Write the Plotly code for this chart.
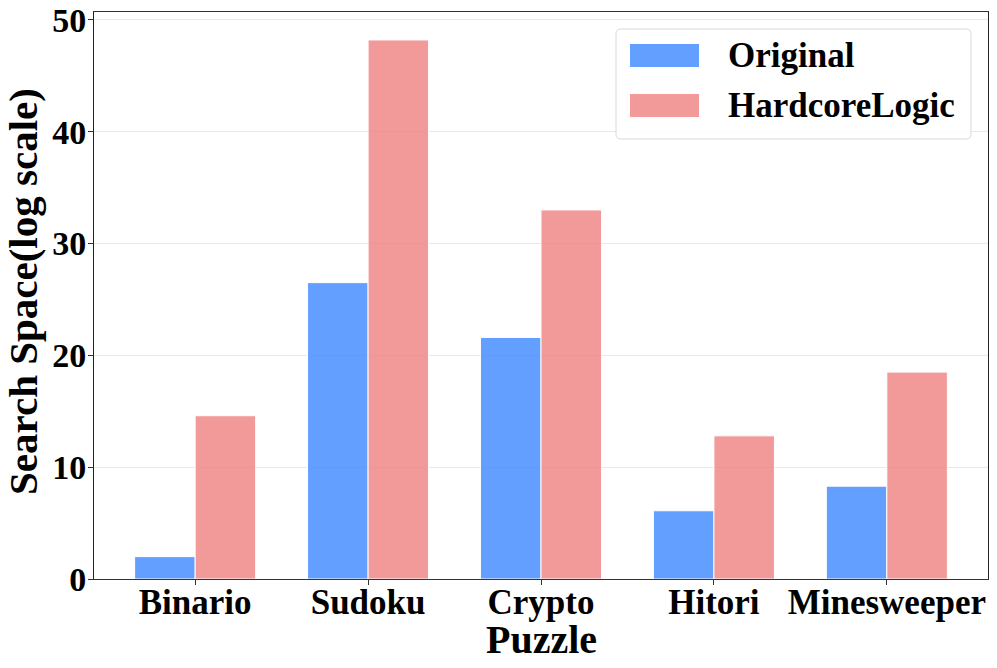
import plotly.graph_objects as go

puzzles = ["Binario", "Sudoku", "Crypto", "Hitori", "Minesweeper"]
original = [2.0, 26.5, 21.6, 6.1, 8.3]
hardcore = [14.6, 48.2, 33.0, 12.8, 18.5]
series_names = ["Original", "HardcoreLogic"]
y_ticks = [0, 10, 20, 30, 40, 50]
x_title = "Puzzle"
y_title = "Search Space(log scale)"

BLUE = "rgba(59,135,255,0.8)"
PINK = "rgba(239,128,128,0.8)"
FONT = "Liberation Serif"

fig = go.Figure()
fig.add_trace(go.Bar(x=puzzles, y=original, name=series_names[0],
                     marker=dict(color=BLUE, line=dict(color="white", width=1)),
                     showlegend=False))
fig.add_trace(go.Bar(x=puzzles, y=hardcore, name=series_names[1],
                     marker=dict(color=PINK, line=dict(color="white", width=1)),
                     showlegend=False))

# page has an 8px body margin; figure is offset by (8, 8)
OFF = 8
W, H = 997 - OFF, 668 - OFF
L, T = 94 - OFF, 12 - OFF
R = 997 - 988
B = 668 - 579
pw, ph = W - L - R, H - T - B

def px(x):
    return (x - OFF - L) / pw

def py(y):
    return (H - B - (y - OFF)) / ph

# legend box (rounded)
x0, x1, y0, y1 = px(616), px(971), py(139), py(29)
rx, ry = 5 / pw, 5 / ph
path = (f"M{x0+rx},{y0} L{x1-rx},{y0} Q{x1},{y0} {x1},{y0+ry} L{x1},{y1-ry} Q{x1},{y1} {x1-rx},{y1} "
        f"L{x0+rx},{y1} Q{x0},{y1} {x0},{y1-ry} L{x0},{y0+ry} Q{x0},{y0} {x0+rx},{y0} Z")
fig.add_shape(type="path", xref="paper", yref="paper", path=path,
              line=dict(color="#d9d9d9", width=1), fillcolor="rgba(255,255,255,0.85)")
for i, (nm, col) in enumerate(zip(series_names, [BLUE, PINK])):
    top = 44 + i * 50
    fig.add_shape(type="rect", xref="paper", yref="paper",
                  x0=px(630), x1=px(699), y0=py(top + 23), y1=py(top),
                  fillcolor=col, line=dict(color=col, width=0))
    fig.add_annotation(xref="paper", yref="paper", x=px(726), y=py(top + 11.5),
                       text=nm, showarrow=False, xanchor="left", yanchor="middle",
                       font=dict(family=FONT, size=35, color="black", weight="bold"))

# axis titles
fig.add_annotation(xref="paper", yref="paper", x=px(541), y=py(639),
                   text=x_title, showarrow=False, xanchor="center", yanchor="middle",
                   font=dict(family=FONT, size=40, color="black", weight="bold"))
fig.add_annotation(xref="paper", yref="paper", x=px(23), y=py(292),
                   text=y_title, showarrow=False, xanchor="center", yanchor="middle",
                   textangle=-90,
                   font=dict(family=FONT, size=41, color="black", weight="bold"))

fig.update_layout(
    width=W, height=H,
    margin=dict(l=L, r=R, t=T, b=B, pad=0, autoexpand=False),
    paper_bgcolor="white", plot_bgcolor="white",
    barmode="group", bargap=0.3, bargroupgap=0,
    font=dict(family=FONT, color="black", weight="bold"),
)
fig.update_xaxes(
    automargin=False,
    range=[-0.585, 4.585], showline=True, mirror=True, linecolor="#333", linewidth=1,
    ticks="outside", ticklen=5, tickcolor="#333", ticklabelstandoff=-13,
    tickfont=dict(family=FONT, size=35, color="black", weight="bold"),
    showgrid=False,
)
fig.update_yaxes(
    automargin=False, ticklabeloverflow="allow",
    range=[0, 50.7], tickvals=y_ticks, showline=True, mirror=True, linecolor="#222", linewidth=1,
    ticks="outside", ticklen=5, tickcolor="#333", ticklabelstandoff=-5,
    tickfont=dict(family=FONT, size=34, color="black", weight="bold"),
    showgrid=True, gridcolor="#e8e8e8", gridwidth=1, zeroline=False,
)

fig.write_html("out.html")
